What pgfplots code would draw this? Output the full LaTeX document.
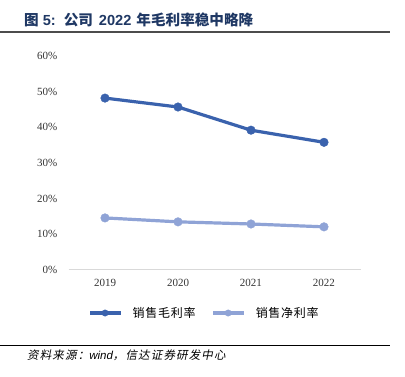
\documentclass[border=0pt]{standalone}
\usepackage{pgfplots}
\pgfplotsset{compat=1.18}
\usepackage{fontspec}
\setmainfont{Liberation Serif}
\newfontfamily\cjk{Noto Sans CJK SC}
\newfontfamily\cjkleg[LetterSpace=6]{Noto Sans CJK SC}
\newfontfamily\cjkit[FakeSlant=0.2, LetterSpace=10]{Noto Sans CJK SC}
\newfontfamily\arialbf{Liberation Sans Bold}
\newfontfamily\arialit{Liberation Sans Italic}
\definecolor{grossc}{HTML}{3A62AD}
\definecolor{netc}{HTML}{8FA3D6}
\definecolor{titlec}{HTML}{1F3864}
\definecolor{axisc}{HTML}{D9D9D9}
\begin{document}
\begin{tikzpicture}[x=1pt,y=1pt]
\useasboundingbox (0,0) rectangle (405,377);
\node[anchor=base west, inner sep=0, text=titlec, font=\fontsize{14.6}{16}\selectfont] at (24,351)
  {\cjk\bfseries 图\hspace{4pt}\arialbf 5:\hspace{8pt}\cjk\bfseries 公司\hspace{6pt}\arialbf 2022\hspace{5pt}\cjk\bfseries 年毛利率稳中略降};
\draw[line width=1.5pt, gray!60!black] (0,345) -- (390,345);
\draw[line width=0.8pt, black] (0,32) -- (390,32);
\node[anchor=base west, inner sep=0, font=\fontsize{11.5}{13}\selectfont] at (27,17)
  {\cjkit 资料来源：\arialit wind\cjkit ，信达证券研发中心};
\begin{axis}[
  at={(68.5pt,107pt)}, anchor=south west,
  scale only axis, width=292pt, height=214pt,
  xmin=-0.5, xmax=3.5, ymin=0, ymax=60,
  axis x line*=bottom, axis y line*=left,
  x axis line style={draw=axisc, line width=1pt, -},
  y axis line style={draw=none},
  xtick={0,1,2,3}, xticklabels={2019,2020,2021,2022},
  ytick={0,10,20,30,40,50,60},
  yticklabel={\pgfmathprintnumber{\tick}\%},
  /pgf/number format/assume math mode=true,
  major tick length=0pt,
  tick label style={font=\fontsize{11}{13}\selectfont, text=black!80},
  yticklabel style={anchor=east, inner sep=0pt, xshift=-11pt},
  xticklabel style={anchor=north, inner sep=0pt, yshift=-9pt},
  clip=false,
  legend style={at={(axis description cs:0.466,-0.201)}, anchor=center, draw=none,
    font=\fontsize{12}{14}\selectfont\cjkleg, column sep=14pt, inner sep=0pt,
    /tikz/every even column/.append style={column sep=14pt}},
  legend columns=2,
  legend image code/.code={
    \draw[#1, mark repeat=2, mark phase=2, mark size=3.2pt] plot coordinates {(0pt,0pt) (15pt,0pt) (31pt,0pt)};
  },
]
\addplot[grossc, line width=3.2pt, mark=*, mark size=4.3pt, mark options={solid, fill=grossc, draw=grossc, line width=0.4pt}]
  coordinates {(0,48.2) (1,45.7) (2,39.2) (3,35.8)};
\addlegendentry{\hspace{-6pt}销售毛利率}
\addplot[netc, line width=3.2pt, mark=*, mark size=4.3pt, mark options={solid, fill=netc, draw=netc, line width=0.4pt}]
  coordinates {(0,14.6) (1,13.5) (2,12.9) (3,12.1)};
\addlegendentry{\hspace{-6pt}销售净利率}
\end{axis}
\end{tikzpicture}
\end{document}
